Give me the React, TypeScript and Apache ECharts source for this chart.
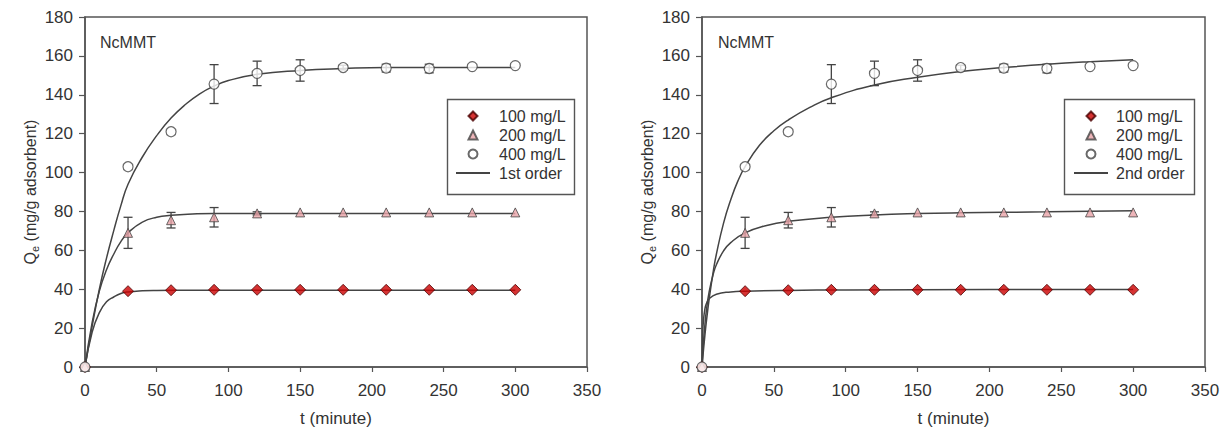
import React, { useEffect, useRef } from "react";
import * as echarts from "echarts";

// ---- Data ----
const times = [0, 30, 60, 90, 120, 150, 180, 210, 240, 270, 300];
const q100 = [0, 39, 39.5, 39.7, 39.7, 39.7, 39.7, 39.7, 39.7, 39.7, 39.7];
const q200 = [0, 69, 75.5, 77, 79, 79.5, 79.5, 79.5, 79.5, 79.5, 79.5];
const q400 = [0, 103, 121, 145.5, 151, 152.5, 154, 153.7, 153.5, 154.5, 155];
const err200 = [0, 8, 4, 5, 0.8, 0, 0, 0, 0, 0, 0];
const err400 = [0, 0, 0, 10, 6.3, 5.5, 1.2, 2, 2.2, 0, 0];

// fitted curves (1st order, left panel)
const fit1T100 = [0, 5, 10, 15, 20, 25, 30, 40, 50, 75, 100, 300];
const fit1Q100 = [0, 18, 28, 33.5, 36, 37.8, 38.6, 39.2, 39.4, 39.5, 39.5, 39.5];
const fit1T200 = [0, 5, 10, 15, 20, 25, 30, 40, 50, 60, 75, 90, 120, 300];
const fit1Q200 = [0, 23, 39, 50, 58, 64.5, 69, 74.5, 77, 78, 78.7, 79, 79, 79];
const fit1T400 = [0, 5, 10, 15, 20, 25, 30, 40, 50, 60, 70, 80, 90, 100, 120, 150, 180, 210, 240, 300];
const fit1Q400 = [0, 21, 40, 56, 70, 83, 94, 108, 119, 128, 135, 140.5, 144.5, 147.3, 150.5, 152.5, 153.5, 154, 154, 154];

// fitted curves (2nd order, right panel)
const fit2T100 = [0, 0.5, 1, 2, 3, 5, 10, 20, 30, 60, 100, 200, 300];
const fit2Q100 = [0, 17, 23.8, 29.8, 32.5, 35.1, 37.4, 38.6, 39, 39.4, 39.6, 39.8, 39.8];
const fit2T200 = [0, 1, 2, 3, 5, 8, 10, 15, 20, 30, 45, 60, 90, 120, 150, 180, 240, 300];
const fit2Q200 = [0, 12.5, 21.6, 28.7, 38.7, 48.3, 52.6, 59.7, 64, 69, 72.8, 74.9, 77, 78.2, 78.9, 79.3, 79.8, 80.3];
const fit2T400 = [0, 1, 2, 3, 5, 8, 10, 15, 20, 25, 30, 40, 50, 60, 75, 90, 120, 150, 180, 210, 240, 270, 300];
const fit2Q400 = [0, 8.5, 16.1, 23, 35, 50, 58, 74, 86, 95.7, 103, 114, 121.5, 127, 133.5, 138.5, 145, 149, 152, 154, 155.7, 157, 158];

const xTicks = { min: 0, max: 350, interval: 50 };
const yTicks = { min: 0, max: 180, interval: 20 };
const seriesNames = ["100 mg/L", "200 mg/L", "400 mg/L"];
const panelLabel = "NcMMT";
const fitNames = ["1st order", "2nd order"];

const FONT = "Liberation Sans, Arial, sans-serif";
const AX = "#555";
const TXT = "#333";

const zip = (a: number[], b: number[]) => a.map((v, i) => [v, b[i]]);

function errorSeries(idx: number, vals: number[], errs: number[]) {
  const data = times
    .map((t, i) => [t, vals[i], errs[i]])
    .filter((d) => d[2] > 0);
  return {
    type: "custom",
    xAxisIndex: idx,
    yAxisIndex: idx,
    silent: true,
    z: 1,
    data,
    renderItem: (params: any, api: any) => {
      const x = api.value(0);
      const y = api.value(1);
      const e = api.value(2);
      const top = api.coord([x, y + e]);
      const bot = api.coord([x, y - e]);
      const w = 4.5;
      const style = { stroke: "#444", lineWidth: 1.3 };
      return {
        type: "group",
        children: [
          { type: "line", shape: { x1: top[0], y1: top[1], x2: bot[0], y2: bot[1] }, style },
          { type: "line", shape: { x1: top[0] - w, y1: top[1], x2: top[0] + w, y2: top[1] }, style },
          { type: "line", shape: { x1: bot[0] - w, y1: bot[1], x2: bot[0] + w, y2: bot[1] }, style },
        ],
      };
    },
  };
}

function panelSeries(idx: number, fitName: string, fits: number[][][]) {
  const lineStyle = { color: "#444", width: 1.5 };
  const lines = fits.map((d) => ({
    type: "line",
    name: fitName,
    xAxisIndex: idx,
    yAxisIndex: idx,
    data: d,
    symbol: "none",
    smooth: 0.5,
    lineStyle,
    itemStyle: { color: "#444" },
    z: 2,
    silent: true,
  }));
  return [
    ...lines,
    errorSeries(idx, q200, err200),
    errorSeries(idx, q400, err400),
    {
      type: "scatter",
      name: seriesNames[0],
      xAxisIndex: idx,
      yAxisIndex: idx,
      data: zip(times, q100),
      symbol: "diamond",
      symbolSize: 11,
      itemStyle: { color: "#cc0000", borderColor: "#4a0000", borderWidth: 1 },
      z: 3,
    },
    {
      type: "scatter",
      name: seriesNames[1],
      xAxisIndex: idx,
      yAxisIndex: idx,
      data: zip(times, q200),
      symbol: "triangle",
      symbolSize: 9,
      itemStyle: { color: "#e9a3a8", borderColor: "#444", borderWidth: 1 },
      z: 3,
    },
    {
      type: "scatter",
      name: seriesNames[2],
      xAxisIndex: idx,
      yAxisIndex: idx,
      data: zip(times, q400),
      symbol: "circle",
      symbolSize: 10,
      itemStyle: { color: "#ffffff", borderColor: "#444", borderWidth: 1.2 },
      z: 4,
    },
  ];
}

const grids = [
  { left: 85, top: 17, width: 502, height: 350 },
  { left: 702, top: 17, width: 503, height: 350 },
];

function xAxis(idx: number) {
  return {
    type: "value",
    gridIndex: idx,
    ...xTicks,
    name: "t (minute)",
    nameLocation: "middle",
    nameGap: 43,
    nameTextStyle: { fontSize: 17, color: TXT, fontFamily: FONT },
    axisLine: { show: true, lineStyle: { color: AX, width: 1.5 } },
    axisTick: { show: true, inside: false, length: 5, lineStyle: { color: AX, width: 1.2 } },
    axisLabel: { fontSize: 17, color: TXT, fontFamily: FONT, margin: 15 },
    splitLine: { show: false },
  };
}

function yAxis(idx: number) {
  return {
    type: "value",
    gridIndex: idx,
    ...yTicks,
    name: "{q|Q}{s|e}{n| (mg/g adsorbent)}",
    nameLocation: "middle",
    nameRotate: 90,
    nameGap: 31,
    nameTextStyle: {
      color: TXT,
      fontFamily: FONT,
      rich: {
        q: { fontSize: 16, color: TXT, fontFamily: FONT, lineHeight: 18, verticalAlign: "middle" },
        s: { fontSize: 11, color: TXT, fontFamily: FONT, lineHeight: 18, padding: [9, 0, 0, 0] },
        n: { fontSize: 16, color: TXT, fontFamily: FONT, lineHeight: 18, verticalAlign: "middle" },
      },
    },
    axisLine: { show: true, lineStyle: { color: AX, width: 1.5 } },
    axisTick: { show: true, inside: false, length: 6, lineStyle: { color: AX, width: 1.2 } },
    axisLabel: { fontSize: 17, color: TXT, fontFamily: FONT, margin: 12 },
    splitLine: { show: false },
  };
}

// legend for the three marker series (square icons so shapes keep their aspect)
function markerLegend(left: number, textPad: number) {
  return {
    orient: "vertical",
    left,
    top: 108,
    padding: 0,
    itemGap: 3,
    itemWidth: 9,
    itemHeight: 9,
    selectedMode: false,
    data: [...seriesNames],
    textStyle: { fontSize: 16, color: TXT, fontFamily: FONT, padding: [0, 0, 0, textPad] },
    z: 6,
  };
}

// legend for the fitted line
function lineLegend(left: number, fitName: string, textPad: number) {
  return {
    orient: "vertical",
    left,
    top: 165,
    padding: 0,
    itemWidth: 34,
    itemHeight: 1.5,
    selectedMode: false,
    data: [fitName],
    textStyle: { fontSize: 16, color: TXT, fontFamily: FONT, padding: [0, 0, 0, textPad] },
    z: 6,
  };
}

function legendBox(x: number, w: number) {
  return {
    type: "rect",
    left: x,
    top: 97,
    shape: { x: 0, y: 0, width: w, height: 95 },
    style: { fill: "none", stroke: AX, lineWidth: 1.4 },
    z: 0,
    silent: true,
  };
}

export default function App() {
  const ref = useRef<HTMLDivElement>(null);
  useEffect(() => {
    if (!ref.current) return;
    const chart = echarts.init(ref.current, null, { renderer: "svg" });
    const option: any = {
      animation: false,
      backgroundColor: "#fff",
      grid: grids.map((g) => ({
        ...g,
        show: true,
        borderColor: AX,
        borderWidth: 1.5,
        backgroundColor: "transparent",
        containLabel: false,
        outerBoundsMode: "none",
      })),
      xAxis: [xAxis(0), xAxis(1)],
      yAxis: [yAxis(0), yAxis(1)],
      legend: [
        markerLegend(467.5, 16.5),
        lineLegend(455, fitNames[0], 4),
        markerLegend(1085.5, 15.5),
        lineLegend(1073, fitNames[1], 3),
      ],
      graphic: [
        legendBox(445, 127),
        legendBox(1062, 130),
        { type: "text", left: 100, top: 34, style: { text: panelLabel, fontSize: 16, fill: TXT, fontFamily: FONT } },
        { type: "text", left: 718, top: 34, style: { text: panelLabel, fontSize: 16, fill: TXT, fontFamily: FONT } },
      ],
      series: [
        ...panelSeries(0, fitNames[0], [zip(fit1T100, fit1Q100), zip(fit1T200, fit1Q200), zip(fit1T400, fit1Q400)]),
        ...panelSeries(1, fitNames[1], [zip(fit2T100, fit2Q100), zip(fit2T200, fit2Q200), zip(fit2T400, fit2Q400)]),
      ],
    };
    chart.setOption(option);
    return () => chart.dispose();
  }, []);
  return (
    <div
      ref={ref}
      style={{ position: "fixed", left: 0, top: 0, width: 1220, height: 427, background: "#fff" }}
    />
  );
}
